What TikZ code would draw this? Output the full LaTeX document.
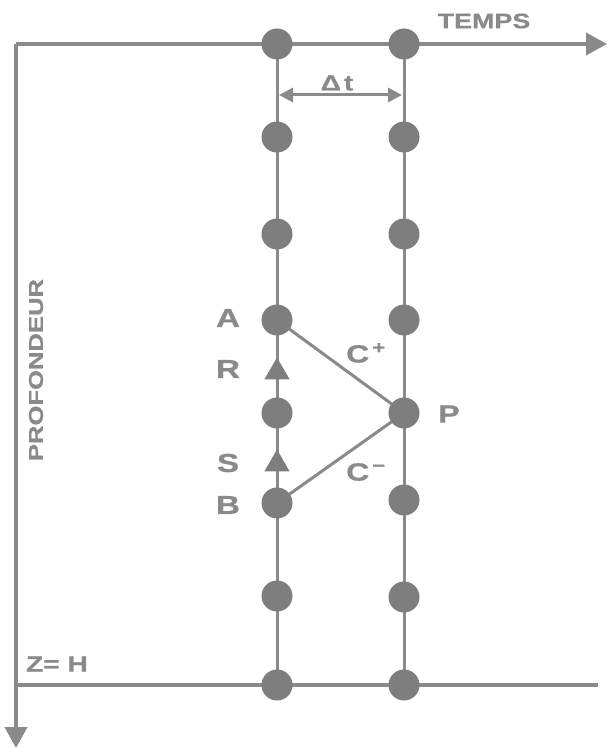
\documentclass[tikz,border=0pt]{standalone}
\usepackage{fontspec}
\setmainfont{Liberation Sans}
\newfontfamily\widefont[FakeStretch=1.28,FakeBold=0.8]{Liberation Sans Bold}
\usetikzlibrary{arrows.meta,shapes.geometric}
\definecolor{ink}{HTML}{8A8A8A}
\definecolor{dotc}{HTML}{7E7E7E}
\begin{document}
\begin{tikzpicture}[x=1pt,y=-1pt,
  dot/.style={circle,fill=dotc,minimum size=31pt,inner sep=0pt},
  tri/.style={regular polygon,regular polygon sides=3,fill=dotc,minimum size=29pt,inner sep=0pt},
  axis/.style={draw=ink,line width=4pt},
  col/.style={draw=ink,line width=3pt},
  tip/.style={-{Triangle[length=21pt,width=22pt]}},
  lab/.style={text=ink,font=\widefont\fontsize{26}{26}\selectfont,inner sep=0pt},
  small/.style={text=ink,font=\widefont\fontsize{21}{21}\selectfont,inner sep=0pt}]
\useasboundingbox (0,0) rectangle (611,749);
% axes
\coordinate (o) at (16,44);
\coordinate (tend) at (607,44);
\coordinate (zend) at (16,748);
\coordinate (hl) at (16,685);
\coordinate (hr) at (598,685);
\draw[axis,tip] (o) -- (tend);
\draw[axis,tip] (o) -- (zend);
\draw[axis] (hl) -- (hr);
% column coordinates
\coordinate (a1) at (277,44);
\coordinate (a8) at (277,685);
\coordinate (b1) at (404,44);
\coordinate (b8) at (404,685);
\draw[col] (a1) -- (a8);
\draw[col] (b1) -- (b8);
% characteristics
\coordinate (A) at (277,320);
\coordinate (P) at (404,413);
\coordinate (B) at (277,503);
\draw[col] (A) -- (P) -- (B);
% dots column 1
\foreach \y [count=\i] in {44,137,234,320,413,503,596,685}
  \node[dot] (n\i) at (277,\y) {};
% dots column 2
\foreach \y [count=\i] in {44,137,234,320,413,500,597,685}
  \node[dot] (m\i) at (404,\y) {};
% triangles
\node[tri] (R) at (277,372) {};
\node[tri] (S) at (277,464) {};
% delta t
\coordinate (d1) at (279,95);
\coordinate (d2) at (402,95);
\draw[draw=ink,line width=3pt,{Triangle[length=14pt,width=14pt]}-{Triangle[length=14pt,width=14pt]}] (d1) -- (d2);
\node[small,font=\widefont\fontsize{22}{22}\selectfont] (dt) at (337,83) {Δ\hspace{3pt}t};
% labels
\node[small] (temps) at (484,21) {TEMPS};
\node[small,rotate=90,font=\widefont\fontsize{20}{20}\selectfont] (prof) at (36,370) {PROFONDEUR};
\node[small,font=\widefont\fontsize{22}{22}\selectfont] (zh) at (57,664) {Z= H};
\node[lab] (la) at (228,318) {A};
\node[lab] (lr) at (228,369) {R};
\node[lab] (ls) at (228,463) {S};
\node[lab] (lb) at (228,505) {B};
\node[lab,font=\widefont\fontsize{25}{25}\selectfont] (lp) at (449,414) {P};
\node[lab,font=\widefont\fontsize{25}{25}\selectfont] (cp) at (366,353) {C\hspace{3pt}\textsuperscript{+}};
\node[lab,font=\widefont\fontsize{25}{25}\selectfont] (cm) at (366,472) {C\hspace{3pt}\textsuperscript{−}};
\end{tikzpicture}
\end{document}
